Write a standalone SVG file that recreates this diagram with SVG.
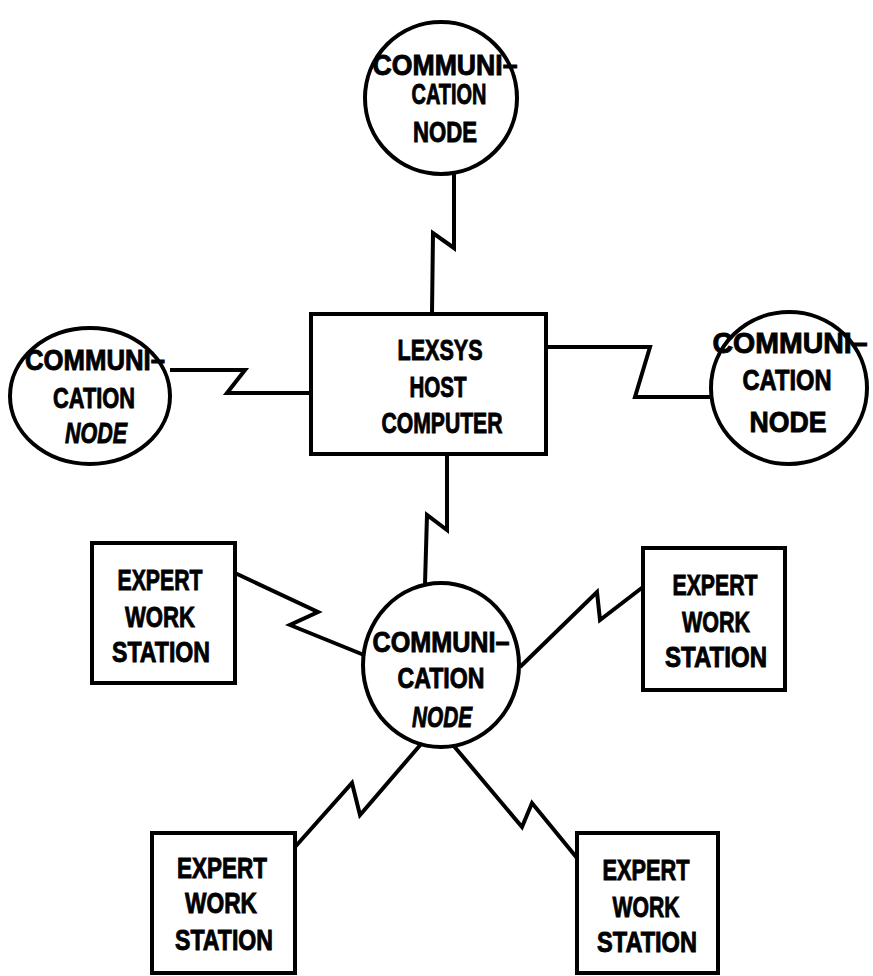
<svg xmlns="http://www.w3.org/2000/svg" width="873" height="976" viewBox="0 0 873 976">
<style>
.shape{fill:none;stroke:#000;stroke-width:4}
.link{fill:none;stroke:#000;stroke-width:4;stroke-linejoin:miter;stroke-miterlimit:10}
text{font-family:"Liberation Sans",Arial,sans-serif;font-weight:bold;font-size:29px;fill:#000;stroke:#000;stroke-width:0.9;text-anchor:middle}
.it{font-style:italic}
</style>
<rect width="873" height="976" fill="#fff"/>
<g id="connectors">
<polyline class="link" points="454,173 454,248 433,233 432,314"/>
<polyline class="link" points="170,370 245,370 227,393 312,393"/>
<polyline class="link" points="546,347 650,347 635,397 711,397"/>
<polyline class="link" points="447,455 447,530 427,515 425,584"/>
<polyline class="link" points="235,573 318,612 290,625 364,655"/>
<polyline class="link" points="520,667 597,592 600,620 643,587"/>
<polyline class="link" points="422,743 360,815 352,783 295,847"/>
<polyline class="link" points="453,745 522,827 532,803 577,858"/>
</g>
<g id="comm-top">
<circle class="shape" cx="441" cy="98" r="76"/>
<text x="445" y="75" textLength="145" lengthAdjust="spacingAndGlyphs">COMMUNI–</text>
<text x="449" y="104" textLength="75" lengthAdjust="spacingAndGlyphs">CATION</text>
<text x="445" y="142" textLength="64" lengthAdjust="spacingAndGlyphs">NODE</text>
</g>
<g id="comm-left">
<ellipse class="shape" cx="90" cy="396" rx="80" ry="68"/>
<text x="95" y="370" textLength="140" lengthAdjust="spacingAndGlyphs">COMMUNI–</text>
<text x="94" y="408" textLength="82" lengthAdjust="spacingAndGlyphs">CATION</text>
<text class="it" x="96" y="443" textLength="62" lengthAdjust="spacingAndGlyphs">NODE</text>
</g>
<g id="comm-right">
<ellipse class="shape" cx="789" cy="388" rx="78" ry="76"/>
<text x="790" y="353" textLength="155" lengthAdjust="spacingAndGlyphs">COMMUNI–</text>
<text x="787" y="390" textLength="89" lengthAdjust="spacingAndGlyphs">CATION</text>
<text x="788" y="432" textLength="77" lengthAdjust="spacingAndGlyphs">NODE</text>
</g>
<g id="host">
<rect class="shape" x="311" y="314" width="235" height="140"/>
<text x="440" y="360" textLength="85" lengthAdjust="spacingAndGlyphs">LEXSYS</text>
<text x="438" y="397" textLength="57" lengthAdjust="spacingAndGlyphs">HOST</text>
<text x="442" y="433" textLength="121" lengthAdjust="spacingAndGlyphs">COMPUTER</text>
</g>
<g id="comm-bottom">
<ellipse class="shape" cx="441" cy="665" rx="78" ry="82"/>
<text x="441" y="652" textLength="137" lengthAdjust="spacingAndGlyphs">COMMUNI–</text>
<text x="441" y="688" textLength="87" lengthAdjust="spacingAndGlyphs">CATION</text>
<text class="it" x="442" y="727" textLength="60" lengthAdjust="spacingAndGlyphs">NODE</text>
</g>
<g id="ews-ul">
<rect class="shape" x="92" y="543" width="143" height="140"/>
<text x="160" y="590" textLength="85" lengthAdjust="spacingAndGlyphs">EXPERT</text>
<text x="160" y="627" textLength="70" lengthAdjust="spacingAndGlyphs">WORK</text>
<text x="161" y="662" textLength="98" lengthAdjust="spacingAndGlyphs">STATION</text>
</g>
<g id="ews-ur">
<rect class="shape" x="643" y="548" width="142" height="142"/>
<text x="715" y="595" textLength="85" lengthAdjust="spacingAndGlyphs">EXPERT</text>
<text x="716" y="632" textLength="68" lengthAdjust="spacingAndGlyphs">WORK</text>
<text x="716" y="667" textLength="102" lengthAdjust="spacingAndGlyphs">STATION</text>
</g>
<g id="ews-ll">
<rect class="shape" x="152" y="833" width="143" height="140"/>
<text x="222" y="878" textLength="90" lengthAdjust="spacingAndGlyphs">EXPERT</text>
<text x="221" y="913" textLength="72" lengthAdjust="spacingAndGlyphs">WORK</text>
<text x="224" y="950" textLength="98" lengthAdjust="spacingAndGlyphs">STATION</text>
</g>
<g id="ews-lr">
<rect class="shape" x="577" y="833" width="141" height="140"/>
<text x="646" y="880" textLength="87" lengthAdjust="spacingAndGlyphs">EXPERT</text>
<text x="646" y="917" textLength="67" lengthAdjust="spacingAndGlyphs">WORK</text>
<text x="647" y="952" textLength="100" lengthAdjust="spacingAndGlyphs">STATION</text>
</g>
</svg>
